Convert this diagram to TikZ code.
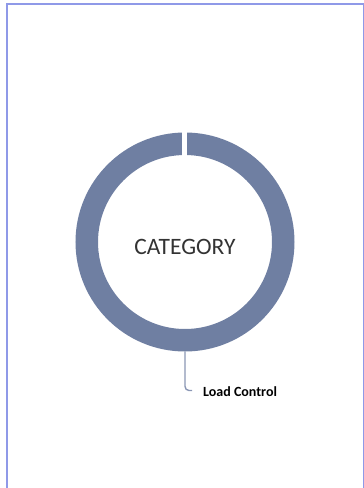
\documentclass[tikz,border=0pt]{standalone}
\usepackage{fontspec}
\setmainfont{Carlito}
\usepackage{tikz}
\usetikzlibrary{positioning, calc}
\definecolor{ringblue}{HTML}{6F7FA2}
\definecolor{leadgray}{HTML}{8A96B4}
\definecolor{framebl}{HTML}{8F99E8}
\tikzstyle{ringpart} = [circle, draw=ringblue, line width=22.5pt, minimum size=196.5pt, inner sep=0pt]
\tikzstyle{title} = [text=black!80, font=\fontsize{23.5}{26}\selectfont, inner sep=0pt]
\tikzstyle{tag} = [font=\bfseries\fontsize{14}{16}\selectfont, inner sep=0pt, anchor=west]
\tikzstyle{leader} = [draw=leadgray, line width=1.4pt, rounded corners=4pt]

\begin{document}
\begin{tikzpicture}[x=1pt, y=1pt]
    \useasboundingbox (0,0) rectangle (364,-488);
    % page frame
    \draw[framebl, line width=2pt] (6.5,-495) |- (363.5,-3.5) -- (363.5,-495);
    % donut ring with its slit at the top
    \node (ring) [ringpart] at (185,-242) {};
    \fill[white] (182,-125) rectangle (187,-160);
    \node (cat) [title] at (185,-247) {CATEGORY};
    % label and its leader
    \node (lc) [tag] at (203,-392) {Load Control};
    \draw[leader] (ring.south) |- ([xshift=-11pt, yshift=1.5pt]lc.west);
\end{tikzpicture}
\end{document}
